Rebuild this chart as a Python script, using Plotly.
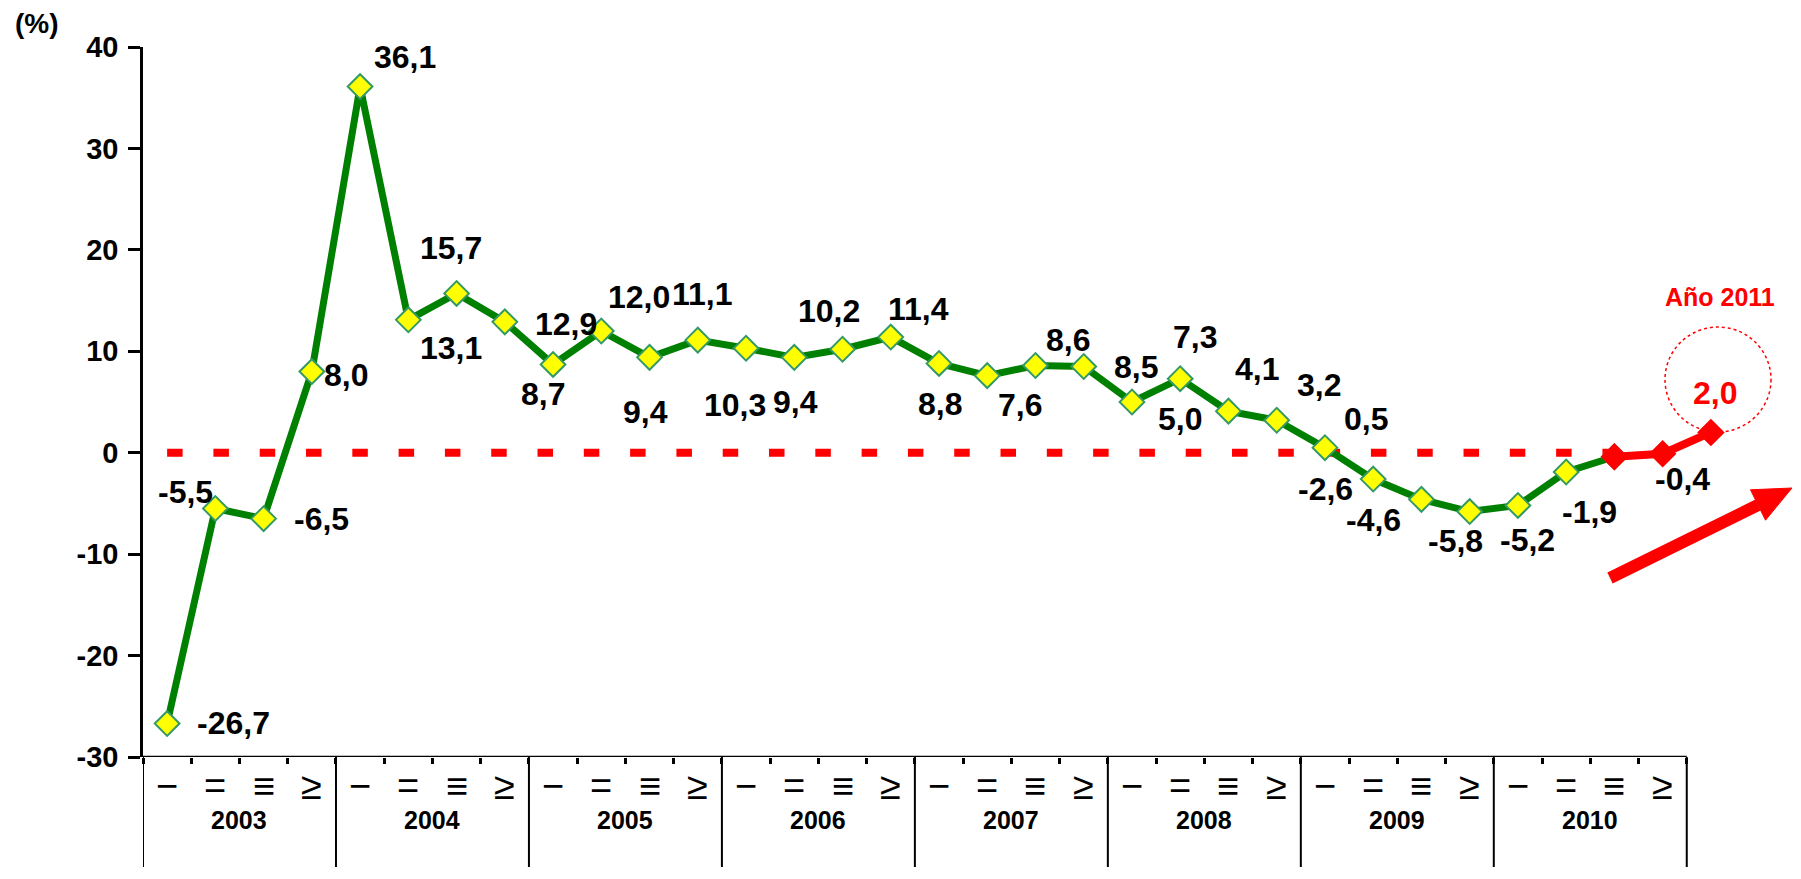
import plotly.graph_objects as go

# ---------------- data ----------------
quarters = ["−", "=", "≡", "≥"]
years = ["2003", "2004", "2005", "2006", "2007", "2008", "2009", "2010"]

green_values = [-26.7, -5.5, -6.5, 8.0,
                36.1, 13.1, 15.7, 12.9,
                8.7, 12.0, 9.4, 11.1,
                10.3, 9.4, 10.2, 11.4,
                8.8, 7.6, 8.6, 8.5,
                5.0, 7.3, 4.1, 3.2,
                0.5, -2.6, -4.6, -5.8,
                -5.2, -1.9]
red_values = [-0.4, -0.1, 2.0]          # 2010 III, 2010 IV, Año 2011

green_labels = ["-26,7", "-5,5", "-6,5", "8,0", "36,1", "13,1", "15,7", "12,9",
                "8,7", "12,0", "9,4", "11,1", "10,3", "9,4", "10,2", "11,4",
                "8,8", "7,6", "8,6", "8,5", "5,0", "7,3", "4,1", "3,2",
                "0,5", "-2,6", "-4,6", "-5,8", "-5,2", "-1,9"]
red_labels = ["-0,4", "", "2,0"]

y_tickvals = [-30, -20, -10, 0, 10, 20, 30, 40]
y_ticktext = ["-30", "-20", "-10", "0", "10", "20", "30", "40"]

# label offsets in screen pixels (dx right, dy down) -- styling only
green_offsets = [(66, -1), (-30, -17), (58, 0), (34, 3), (45, -30), (43, 28), (-6, -45), (61, 2),
                 (-10, 30), (38, -34), (-4, 55), (5, -46), (-11, 57), (1, 45), (-14, -38), (28, -28),
                 (1, 41), (33, 29), (33, -25), (52, 0), (48, 17), (15, -42), (29, -42), (42, -35),
                 (41, -29), (-48, 10), (-48, 21), (-14, 29), (10, 35), (23, 40)]
red_offsets = [(68, 22), (0, 0), (4, -39)]

n_cat = len(quarters) * len(years)
x_green = list(range(len(green_values) + 1))
y_green = green_values + [red_values[0]]
x_red = [len(green_values) + i for i in range(len(red_values))]

FONT = "Liberation Sans"
OFF = 8  # default page body margin of the html page

# figure geometry (absolute page pixels of the plot area)
PL, PR, PT, PB = 143, 1735, 47, 757

fig = go.Figure()

fig.add_trace(go.Scatter(
    x=x_green, y=y_green, mode="lines+markers",
    line=dict(color="#008000", width=7),
    marker=dict(symbol="diamond", size=19, color="#FFFF00",
                line=dict(color="#339966", width=2)),
    cliponaxis=False, hoverinfo="skip", showlegend=False))

fig.add_trace(go.Scatter(
    x=x_red, y=red_values, mode="lines+markers",
    line=dict(color="#FF0000", width=8),
    marker=dict(symbol="diamond", size=19, color="#FF0000",
                line=dict(color="#FF0000", width=2)),
    cliponaxis=False, hoverinfo="skip", showlegend=False))

annotations = []
for i, (v, t) in enumerate(zip(green_values, green_labels)):
    dx, dy = green_offsets[i]
    annotations.append(dict(x=i, y=v, xref="x", yref="y", text=t, showarrow=False,
                            xanchor="center", yanchor="middle",
                            xshift=dx, yshift=-dy,
                            font=dict(family=FONT, size=32, color="black", weight="bold")))
for j, (v, t) in enumerate(zip(red_values, red_labels)):
    if not t:
        continue
    dx, dy = red_offsets[j]
    color = "#FF0000" if j == len(red_values) - 1 else "black"
    annotations.append(dict(x=x_red[j], y=v, xref="x", yref="y", text=t, showarrow=False,
                            xanchor="center", yanchor="middle",
                            xshift=dx, yshift=-dy,
                            font=dict(family=FONT, size=32, color=color, weight="bold")))


def px(X, Y):
    return (X - PL) / (PR - PL), (PB - Y) / (PB - PT)


# category labels
for yi, yr in enumerate(years):
    for qi, q in enumerate(quarters):
        annotations.append(dict(x=yi * 4 + qi, y=px(0, 786)[1], xref="x", yref="paper", text=q,
                                showarrow=False, xanchor="center", yanchor="middle",
                                font=dict(family=FONT, size=38, color="black")))
    annotations.append(dict(x=yi * 4 + 1.5, y=px(0, 820)[1], xref="x", yref="paper", text=yr,
                            showarrow=False, xanchor="center", yanchor="middle",
                            font=dict(family=FONT, size=25, color="black", weight="bold")))

pc = px(37, 23)
annotations.append(dict(x=pc[0], y=pc[1], xref="paper", yref="paper", text="(%)",
                        xanchor="center", yanchor="middle",
                        showarrow=False, font=dict(family=FONT, size=28, color="black", weight="bold")))
pa = px(1720, 297)
annotations.append(dict(x=pa[0], y=pa[1], xref="paper", yref="paper", text="Año 2011",
                        xanchor="center", yanchor="middle",
                        showarrow=False, font=dict(family=FONT, size=25, color="#FF0000", weight="bold")))

shapes = []
# zero reference dashed line
shapes.append(dict(type="line", xref="x", yref="y", x0=0, x1=len(green_values), y0=0, y1=0,
                   line=dict(color="#FF0000", width=8, dash="15.5px,30.8px"), layer="below"))
# x axis line
shapes.append(dict(type="line", xref="x", yref="y", x0=-0.5, x1=n_cat - 0.5, y0=-30, y1=-30,
                   line=dict(color="black", width=2.5), layer="above"))
# year separators
for k in range(len(years) + 1):
    shapes.append(dict(type="line", xref="x", yref="paper", x0=k * 4 - 0.5, x1=k * 4 - 0.5,
                       y0=0, y1=px(0, 867)[1], line=dict(color="black", width=2)))
# dotted circle around 2011
c0 = px(1665, 432)
c1 = px(1771, 327)
shapes.append(dict(type="circle", xref="paper", yref="paper", x0=c0[0], x1=c1[0],
                   y0=c0[1], y1=c1[1], line=dict(color="#FF0000", width=1.5, dash="dot")))

# arrow
tx, ty = px(1610, 578)
bx, by = px(1758, 505)
shapes.append(dict(type="line", xref="paper", yref="paper", x0=tx, y0=ty, x1=bx, y1=by,
                   line=dict(color="#FF0000", width=12)))
p1 = px(1792, 488)
p2 = px(1750.5, 489.8)
p3 = px(1765.5, 520.2)
shapes.append(dict(type="path", xref="paper", yref="paper",
                   path=f"M {p1[0]} {p1[1]} L {p2[0]} {p2[1]} L {p3[0]} {p3[1]} Z",
                   fillcolor="#FF0000", line=dict(color="#FF0000", width=1)))

W, H = 1801 - OFF, 879 - OFF
fig.update_layout(
    width=W, height=H,
    margin=dict(l=PL - OFF, r=W - (PR - OFF), t=PT - OFF, b=H - (PB - OFF)),
    paper_bgcolor="white", plot_bgcolor="white",
    showlegend=False,
    xaxis=dict(range=[-0.5, n_cat + 0.5], showline=False, showgrid=False, zeroline=False,
               tickmode="array", tickvals=[k - 0.5 for k in range(n_cat + 1)],
               ticks="outside", ticklen=6, tickwidth=2.5, tickcolor="black",
               showticklabels=False, fixedrange=True, automargin=False),
    yaxis=dict(range=[-30, 40], tickmode="array", tickvals=y_tickvals, ticktext=y_ticktext,
               showline=True, linecolor="black", linewidth=2.5, showgrid=False, zeroline=False,
               ticks="outside", ticklen=12, tickwidth=2.5, tickcolor="black", automargin=False,
               ticklabelstandoff=4,
               tickfont=dict(family=FONT, size=29, color="black", weight="bold")),
    annotations=annotations,
    shapes=shapes,
)

fig.write_html("out.html")
